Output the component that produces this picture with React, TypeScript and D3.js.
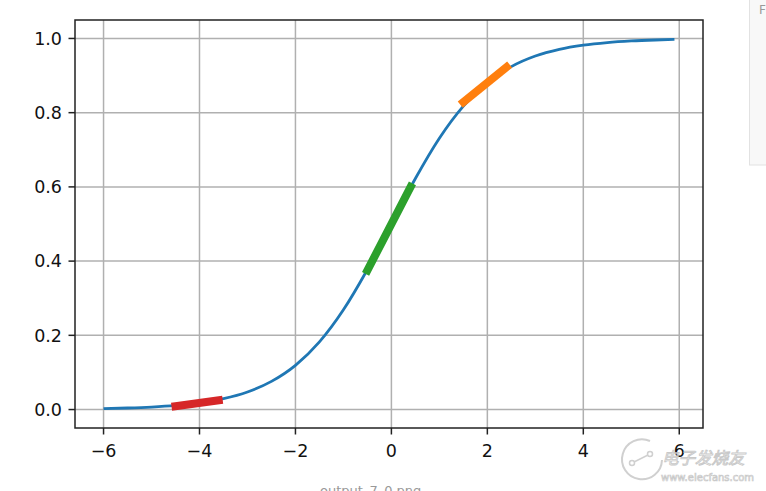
import React from "react";
import * as d3 from "d3";

const curveX = [-6, -5.5, -5, -4.5, -4, -3.5, -3, -2.5, -2, -1.5, -1, -0.5, 0, 0.5, 1, 1.5, 2, 2.5, 3, 3.5, 4, 4.5, 5, 5.5, 5.9];
const curveY = [0.0025, 0.0041, 0.0067, 0.011, 0.018, 0.0293, 0.0474, 0.0759, 0.1192, 0.1824, 0.2689, 0.3775, 0.5, 0.6225, 0.7311, 0.8176, 0.8808, 0.9241, 0.9526, 0.9707, 0.982, 0.989, 0.9933, 0.9959, 0.9973];

const redX = [-4.5, -3.6];
const redY = [0.0092, 0.0251];
const greenX = [-0.5, 0.4];
const greenY = [0.375, 0.6];
const orangeX = [1.5, 2.4];
const orangeY = [0.8283, 0.9228];

const xTicks = [-6, -4, -2, 0, 2, 4, 6];
const yTicks = [0.0, 0.2, 0.4, 0.6, 0.8, 1.0];

const W = 766;
const H = 491;
const L = 75, R = 703, T = 20, B = 428;

export default function App() {
  const x = d3.scaleLinear().domain([-6.595, 6.495]).range([L, R]);
  const y = d3.scaleLinear().domain([-0.04974, 1.04974]).range([B, T]);
  const line = d3
    .line<[number, number]>()
    .x((d) => x(d[0]))
    .y((d) => y(d[1]))
    .curve(d3.curveMonotoneX);
  const curvePts = curveX.map((v, i) => [v, curveY[i]] as [number, number]);
  const seg = (xs: number[], ys: number[]) =>
    d3.line<[number, number]>().x((d) => x(d[0])).y((d) => y(d[1]))(
      xs.map((v, i) => [v, ys[i]] as [number, number])
    ) as string;
  const fmtX = (v: number) => (v < 0 ? "\u2212" + Math.abs(v) : String(v));
  const font = "'DejaVu Sans', sans-serif";
  return (
    <svg
      width={W}
      height={H}
      style={{ position: "absolute", left: 0, top: 0, background: "#fff" }}
      fontFamily={font}
    >
      <rect x={0} y={0} width={W} height={H} fill="#fff" />
      {/* grid */}
      {xTicks.map((t) => (
        <line key={"gx" + t} x1={x(t)} x2={x(t)} y1={T} y2={B} stroke="#b0b0b0" strokeWidth={1.5} />
      ))}
      {yTicks.map((t) => (
        <line key={"gy" + t} x1={L} x2={R} y1={y(t)} y2={y(t)} stroke="#b0b0b0" strokeWidth={1.5} />
      ))}
      {/* curve */}
      <path d={line(curvePts) as string} fill="none" stroke="#1f77b4" strokeWidth={2.8} />
      <path d={seg(redX, redY)} fill="none" stroke="#d62728" strokeWidth={8} strokeLinecap="square" />
      <path d={seg(greenX, greenY)} fill="none" stroke="#2ca02c" strokeWidth={8} strokeLinecap="square" />
      <path d={seg(orangeX, orangeY)} fill="none" stroke="#ff7f0e" strokeWidth={8} strokeLinecap="square" />
      {/* spines */}
      <rect x={L} y={T} width={R - L} height={B - T} fill="none" stroke="#222" strokeWidth={1.5} />
      {/* x ticks */}
      {xTicks.map((t) => (
        <g key={"xt" + t}>
          <line x1={x(t)} x2={x(t)} y1={B} y2={B + 6.5} stroke="#222" strokeWidth={1.5} />
          <text x={x(t)} y={B + 29} textAnchor="middle" fontSize={17.5} fill="#111">
            {fmtX(t)}
          </text>
        </g>
      ))}
      {/* y ticks */}
      {yTicks.map((t) => (
        <g key={"yt" + t}>
          <line x1={L - 6.5} x2={L} y1={y(t)} y2={y(t)} stroke="#222" strokeWidth={1.5} />
          <text x={L - 13} y={y(t)} dy="0.36em" textAnchor="end" fontSize={17.5} fill="#111">
            {t.toFixed(1)}
          </text>
        </g>
      ))}
      {/* side panel */}
      <rect x={749.5} y={-1} width={20} height={166} fill="#f8f8f8" stroke="#e2e2e2" strokeWidth={1} />
      <text x={759} y={14} fontSize={12} fill="#999">F</text>
      {/* bottom caption */}
      <text x={320} y={495} fontSize={13} fill="#999">output_7_0.png</text>
      {/* watermark */}
      <g opacity={0.85}>
        <path d="M 650 441 A 20 20 0 1 0 662 460" fill="none" stroke="#c8c8c8" strokeWidth={2} />
        <line x1={634} x2={648} y1={462} y2={455} stroke="#c8c8c8" strokeWidth={1.5} />
        <circle cx={632} cy={463} r={2.5} fill="none" stroke="#c8c8c8" strokeWidth={1.5} />
        <circle cx={650} cy={454} r={2.5} fill="none" stroke="#c8c8c8" strokeWidth={1.5} />
        <text x={662} y={464} fontSize={16.5} fill="#fff" stroke="#c0c0c0" strokeWidth={0.9} fontFamily="'Noto Sans CJK SC', sans-serif" fontStyle="italic">
          电子发烧友
        </text>
        <text x={661} y={481} fontSize={10} fill="#fff" stroke="#c0c0c0" strokeWidth={0.7}>
          www.elecfans.com
        </text>
      </g>
    </svg>
  );
}
